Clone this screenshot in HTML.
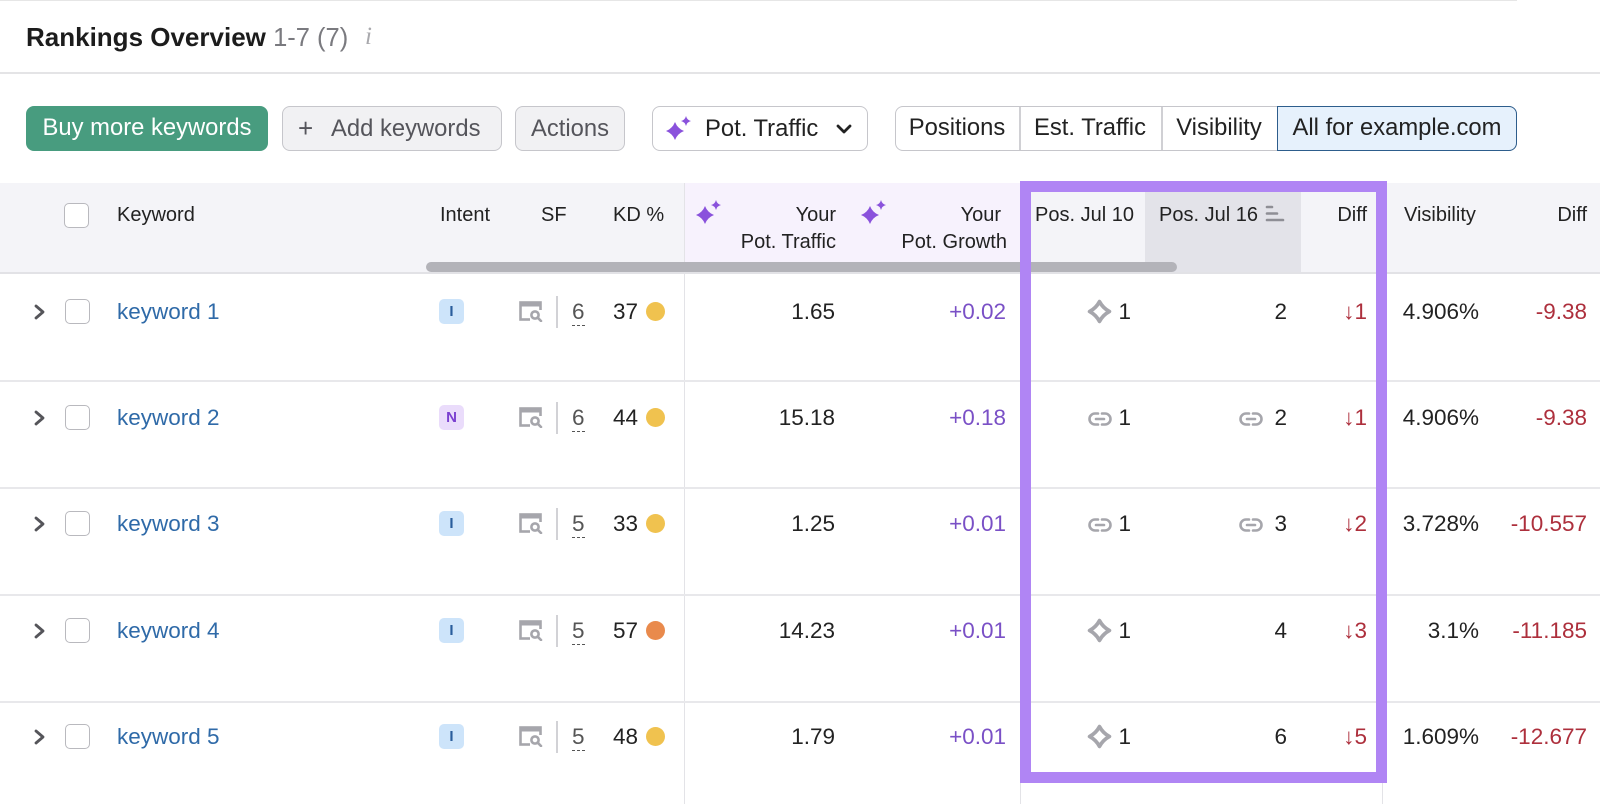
<!DOCTYPE html>
<html><head><meta charset="utf-8">
<style>
*{box-sizing:border-box;margin:0;padding:0}
html,body{width:1600px;height:804px;overflow:hidden;background:#fff}
body{position:relative;font-family:"Liberation Sans",Arial,sans-serif;color:#222}
.a{position:absolute}
.t{position:absolute;line-height:30px;white-space:nowrap}
.hd{font-size:20px;color:#222}
.rw{font-size:22.5px;color:#222}
.btn{position:absolute;top:106px;height:45px;border-radius:8px;font-size:23.8px;line-height:43px;white-space:nowrap}
.cb{position:absolute;width:25px;height:25px;border:1.5px solid #b9b9be;border-radius:5px;background:#fff}
.kw{color:#2f6aa8}
.pur{color:#7a50c6}
.red{color:#ad2f3c}
.badge{position:absolute;width:25px;height:25px;border-radius:5px;font-size:15px;font-weight:bold;line-height:25px;text-align:center}
.bI{background:#cde4fa;color:#2a5d9c}
.bN{background:#eadcfb;color:#7a3fd0}
.dot{position:absolute;width:19px;height:19px;border-radius:50%}
.vl{position:absolute;width:1px;background:#e3e3e7}
.hl{position:absolute;left:0;width:1600px;height:2px;background:#e8e8eb}
</style></head><body>

<div class="a" style="left:0;top:0;width:1517px;height:1px;background:#e6e6e6"></div>

<div class="t" style="left:26px;top:22px;font-size:26px;font-weight:bold;color:#1c1c1c">Rankings Overview <span style="font-weight:normal;color:#7a7a7f;font-size:25.5px">1-7 (7)</span></div>
<div class="t" style="left:365px;top:22px;font-size:25px;font-family:'Liberation Serif',serif;font-style:italic;color:#a9a9ad">i</div>

<div class="a" style="left:0;top:72px;width:1600px;height:2px;background:#e4e4e6"></div>

<div class="btn" style="left:26px;width:242px;background:#489c7f;color:#fff;text-align:center">Buy more keywords</div>
<div class="btn" style="left:282px;width:220px;background:#f1f1f3;border:1.5px solid #c6c6cb;color:#55555b">
  <span class="a" style="left:15px;top:0;font-size:26px">+</span>
  <span class="a" style="left:48px;top:0">Add keywords</span>
</div>
<div class="btn" style="left:515px;width:110px;background:#f1f1f3;border:1.5px solid #c6c6cb;color:#55555b;text-align:center">Actions</div>
<div class="btn" style="left:652px;width:216px;background:#fff;border:1.5px solid #c6c6cb;color:#222">
  <svg class="a" style="left:13px;top:8px" width="26" height="26" viewBox="0 0 26 26"><path d="M9 7 Q11.5 13.5 18 16 Q11.5 18.5 9 25 Q6.5 18.5 0 16 Q6.5 13.5 9 7Z" fill="#8a52dc"/><path d="M20 1 Q21 5 25 6 Q21 7 20 11 Q19 7 15 6 Q19 5 20 1Z" fill="#8a52dc"/></svg>
  <span class="a" style="left:52px;top:0">Pot. Traffic</span>
  <svg class="a" style="left:183px;top:17px" width="16" height="12" viewBox="0 0 16 12"><polyline points="2,2 8,8 14,2" fill="none" stroke="#222" stroke-width="2.8" stroke-linecap="round" stroke-linejoin="round"/></svg>
</div>
<div class="btn" style="left:895px;width:622px;border:1.5px solid #c6c6cb;background:#fff;color:#222"></div>
<div class="btn" style="left:895px;width:124px;text-align:center;background:transparent">Positions</div>
<div class="a" style="left:1019px;top:107px;width:1.5px;height:43px;background:#d0d0d4"></div>
<div class="btn" style="left:1019px;width:142px;text-align:center;background:transparent">Est. Traffic</div>
<div class="a" style="left:1161px;top:107px;width:1.5px;height:43px;background:#d0d0d4"></div>
<div class="btn" style="left:1161px;width:116px;text-align:center;background:transparent">Visibility</div>
<div class="btn" style="left:1277px;width:240px;text-align:center;background:#e6f1fc;border:1.5px solid #2d5d8c;border-radius:0 8px 8px 0;line-height:42px">All for example.com</div>

<div class="a" style="left:0;top:183px;width:1600px;height:90px;background:#f4f4f8"></div>
<div class="a" style="left:684px;top:183px;width:336px;height:90px;background:#f7f2fd"></div>
<div class="a" style="left:1145px;top:183px;width:156px;height:90px;background:#e3e3e9"></div>
<div class="a" style="left:0;top:272px;width:1600px;height:2px;background:#e2e2e6"></div>

<div class="vl" style="left:684px;top:183px;height:621px"></div>
<div class="vl" style="left:1020px;top:273px;height:531px"></div>
<div class="vl" style="left:1382px;top:273px;height:531px"></div>

<div class="cb" style="left:64px;top:203px"></div>
<div class="t hd" style="left:117px;top:200px">Keyword</div>
<div class="t hd" style="left:440px;top:200px">Intent</div>
<div class="t hd" style="left:541px;top:200px">SF</div>
<div class="t hd" style="left:613px;top:200px">KD %</div>
<svg class="a" style="left:696px;top:199px" width="26" height="26" viewBox="0 0 26 26"><path d="M9 7 Q11.5 13.5 18 16 Q11.5 18.5 9 25 Q6.5 18.5 0 16 Q6.5 13.5 9 7Z" fill="#8a52dc"/><path d="M20 1 Q21 5 25 6 Q21 7 20 11 Q19 7 15 6 Q19 5 20 1Z" fill="#8a52dc"/></svg>
<div class="t hd" style="right:764px;top:200px;text-align:right">Your</div>
<div class="t hd" style="right:764px;top:227px;text-align:right">Pot. Traffic</div>
<svg class="a" style="left:861px;top:199px" width="26" height="26" viewBox="0 0 26 26"><path d="M9 7 Q11.5 13.5 18 16 Q11.5 18.5 9 25 Q6.5 18.5 0 16 Q6.5 13.5 9 7Z" fill="#8a52dc"/><path d="M20 1 Q21 5 25 6 Q21 7 20 11 Q19 7 15 6 Q19 5 20 1Z" fill="#8a52dc"/></svg>
<div class="t hd" style="right:599px;top:200px">Your</div>
<div class="t hd" style="right:593px;top:227px">Pot. Growth</div>
<div class="t hd" style="left:1035px;top:200px">Pos. Jul 10</div>
<div class="t hd" style="left:1159px;top:200px">Pos. Jul 16</div>
<svg class="a" style="left:1265px;top:204px" width="20" height="20" viewBox="0 0 20 20"><g stroke="#8e8e95" stroke-width="2.6" stroke-linecap="round"><line x1="2" y1="3" x2="7" y2="3"/><line x1="2" y1="9.5" x2="12" y2="9.5"/><line x1="2" y1="16" x2="18" y2="16"/></g></svg>
<div class="t hd" style="right:233px;top:200px">Diff</div>
<div class="t hd" style="left:1404px;top:200px">Visibility</div>
<div class="t hd" style="right:13px;top:200px">Diff</div>

<div class="a" style="left:426px;top:262px;width:751px;height:10px;border-radius:5px;background:#b3b3b9"></div>

<div class="hl" style="top:380px"></div>
<div class="hl" style="top:487px"></div>
<div class="hl" style="top:594px"></div>
<div class="hl" style="top:701px"></div>

<!-- Row 1 -->
<svg class="a" style="left:33px;top:304px" width="14" height="16" viewBox="0 0 14 16"><polyline points="3,2 10,8 3,14" fill="none" stroke="#55555a" stroke-width="2.8" stroke-linecap="round" stroke-linejoin="round"/></svg>
<div class="cb" style="left:65px;top:299px"></div>
<div class="t rw kw" style="left:117px;top:297px">keyword 1</div>
<div class="badge bI" style="left:439px;top:299px">I</div>
<svg class="a" style="left:519px;top:301px" width="25" height="21" viewBox="0 0 25 21"><rect x="1.5" y="1.5" width="20" height="17" fill="none" stroke="#a6a6ac" stroke-width="2.6"/><rect x="1.5" y="1.5" width="20" height="4" fill="#a6a6ac"/><rect x="11" y="9" width="13" height="12" fill="#fff"/><circle cx="16" cy="14" r="3.6" fill="none" stroke="#a6a6ac" stroke-width="2.6"/><line x1="18.6" y1="16.6" x2="22" y2="20" stroke="#a6a6ac" stroke-width="2.6" stroke-linecap="round"/></svg>
<div class="a" style="left:556px;top:296px;width:2px;height:32px;background:#d2d2d6"></div>
<div class="t rw" style="left:572px;top:297px;color:#555">6</div>
<div class="a" style="left:572px;top:325px;width:13px;border-bottom:1.5px dashed #555"></div>
<div class="t rw" style="right:962px;top:297px">37</div>
<div class="dot" style="left:646px;top:302px;background:#f0c24f"></div>
<div class="t rw" style="right:765px;top:297px">1.65</div>
<div class="t rw pur" style="right:594px;top:297px">+0.02</div>
<svg class="a" style="left:1087px;top:299px" width="25" height="25" viewBox="0 0 24 24"><path d="M12 2.5 Q15.3 8.7 21.5 12 Q15.3 15.3 12 21.5 Q8.7 15.3 2.5 12 Q8.7 8.7 12 2.5Z" fill="#fff" stroke="#a6a6ac" stroke-width="3.6" stroke-linejoin="round"/></svg>
<div class="t rw" style="right:469px;top:297px">1</div>
<div class="t rw" style="right:313px;top:297px">2</div>
<div class="t rw red" style="right:233px;top:297px">↓1</div>
<div class="t rw" style="right:121px;top:297px">4.906%</div>
<div class="t rw red" style="right:13px;top:297px">-9.38</div>

<!-- Row 2 -->
<svg class="a" style="left:33px;top:410px" width="14" height="16" viewBox="0 0 14 16"><polyline points="3,2 10,8 3,14" fill="none" stroke="#55555a" stroke-width="2.8" stroke-linecap="round" stroke-linejoin="round"/></svg>
<div class="cb" style="left:65px;top:405px"></div>
<div class="t rw kw" style="left:117px;top:403px">keyword 2</div>
<div class="badge bN" style="left:439px;top:405px">N</div>
<svg class="a" style="left:519px;top:407px" width="25" height="21" viewBox="0 0 25 21"><rect x="1.5" y="1.5" width="20" height="17" fill="none" stroke="#a6a6ac" stroke-width="2.6"/><rect x="1.5" y="1.5" width="20" height="4" fill="#a6a6ac"/><rect x="11" y="9" width="13" height="12" fill="#fff"/><circle cx="16" cy="14" r="3.6" fill="none" stroke="#a6a6ac" stroke-width="2.6"/><line x1="18.6" y1="16.6" x2="22" y2="20" stroke="#a6a6ac" stroke-width="2.6" stroke-linecap="round"/></svg>
<div class="a" style="left:556px;top:402px;width:2px;height:32px;background:#d2d2d6"></div>
<div class="t rw" style="left:572px;top:403px;color:#555">6</div>
<div class="a" style="left:572px;top:431px;width:13px;border-bottom:1.5px dashed #555"></div>
<div class="t rw" style="right:962px;top:403px">44</div>
<div class="dot" style="left:646px;top:408px;background:#f0c24f"></div>
<div class="t rw" style="right:765px;top:403px">15.18</div>
<div class="t rw pur" style="right:594px;top:403px">+0.18</div>
<svg class="a" style="left:1088px;top:411px" width="24" height="16" viewBox="0 0 24 16"><g fill="none" stroke="#a6a6ac" stroke-width="2.6" stroke-linecap="round"><path d="M10 2.5 H7 a5.5 5.5 0 0 0 0 11 H10"/><path d="M14 2.5 H17 a5.5 5.5 0 0 1 0 11 H14"/><line x1="8" y1="8" x2="16" y2="8"/></g></svg>
<div class="t rw" style="right:469px;top:403px">1</div>
<svg class="a" style="left:1239px;top:411px" width="24" height="16" viewBox="0 0 24 16"><g fill="none" stroke="#a6a6ac" stroke-width="2.6" stroke-linecap="round"><path d="M10 2.5 H7 a5.5 5.5 0 0 0 0 11 H10"/><path d="M14 2.5 H17 a5.5 5.5 0 0 1 0 11 H14"/><line x1="8" y1="8" x2="16" y2="8"/></g></svg>
<div class="t rw" style="right:313px;top:403px">2</div>
<div class="t rw red" style="right:233px;top:403px">↓1</div>
<div class="t rw" style="right:121px;top:403px">4.906%</div>
<div class="t rw red" style="right:13px;top:403px">-9.38</div>

<!-- Row 3 -->
<svg class="a" style="left:33px;top:516px" width="14" height="16" viewBox="0 0 14 16"><polyline points="3,2 10,8 3,14" fill="none" stroke="#55555a" stroke-width="2.8" stroke-linecap="round" stroke-linejoin="round"/></svg>
<div class="cb" style="left:65px;top:511px"></div>
<div class="t rw kw" style="left:117px;top:509px">keyword 3</div>
<div class="badge bI" style="left:439px;top:511px">I</div>
<svg class="a" style="left:519px;top:513px" width="25" height="21" viewBox="0 0 25 21"><rect x="1.5" y="1.5" width="20" height="17" fill="none" stroke="#a6a6ac" stroke-width="2.6"/><rect x="1.5" y="1.5" width="20" height="4" fill="#a6a6ac"/><rect x="11" y="9" width="13" height="12" fill="#fff"/><circle cx="16" cy="14" r="3.6" fill="none" stroke="#a6a6ac" stroke-width="2.6"/><line x1="18.6" y1="16.6" x2="22" y2="20" stroke="#a6a6ac" stroke-width="2.6" stroke-linecap="round"/></svg>
<div class="a" style="left:556px;top:508px;width:2px;height:32px;background:#d2d2d6"></div>
<div class="t rw" style="left:572px;top:509px;color:#555">5</div>
<div class="a" style="left:572px;top:537px;width:13px;border-bottom:1.5px dashed #555"></div>
<div class="t rw" style="right:962px;top:509px">33</div>
<div class="dot" style="left:646px;top:514px;background:#f0c24f"></div>
<div class="t rw" style="right:765px;top:509px">1.25</div>
<div class="t rw pur" style="right:594px;top:509px">+0.01</div>
<svg class="a" style="left:1088px;top:517px" width="24" height="16" viewBox="0 0 24 16"><g fill="none" stroke="#a6a6ac" stroke-width="2.6" stroke-linecap="round"><path d="M10 2.5 H7 a5.5 5.5 0 0 0 0 11 H10"/><path d="M14 2.5 H17 a5.5 5.5 0 0 1 0 11 H14"/><line x1="8" y1="8" x2="16" y2="8"/></g></svg>
<div class="t rw" style="right:469px;top:509px">1</div>
<svg class="a" style="left:1239px;top:517px" width="24" height="16" viewBox="0 0 24 16"><g fill="none" stroke="#a6a6ac" stroke-width="2.6" stroke-linecap="round"><path d="M10 2.5 H7 a5.5 5.5 0 0 0 0 11 H10"/><path d="M14 2.5 H17 a5.5 5.5 0 0 1 0 11 H14"/><line x1="8" y1="8" x2="16" y2="8"/></g></svg>
<div class="t rw" style="right:313px;top:509px">3</div>
<div class="t rw red" style="right:233px;top:509px">↓2</div>
<div class="t rw" style="right:121px;top:509px">3.728%</div>
<div class="t rw red" style="right:13px;top:509px">-10.557</div>

<!-- Row 4 -->
<svg class="a" style="left:33px;top:623px" width="14" height="16" viewBox="0 0 14 16"><polyline points="3,2 10,8 3,14" fill="none" stroke="#55555a" stroke-width="2.8" stroke-linecap="round" stroke-linejoin="round"/></svg>
<div class="cb" style="left:65px;top:618px"></div>
<div class="t rw kw" style="left:117px;top:616px">keyword 4</div>
<div class="badge bI" style="left:439px;top:618px">I</div>
<svg class="a" style="left:519px;top:620px" width="25" height="21" viewBox="0 0 25 21"><rect x="1.5" y="1.5" width="20" height="17" fill="none" stroke="#a6a6ac" stroke-width="2.6"/><rect x="1.5" y="1.5" width="20" height="4" fill="#a6a6ac"/><rect x="11" y="9" width="13" height="12" fill="#fff"/><circle cx="16" cy="14" r="3.6" fill="none" stroke="#a6a6ac" stroke-width="2.6"/><line x1="18.6" y1="16.6" x2="22" y2="20" stroke="#a6a6ac" stroke-width="2.6" stroke-linecap="round"/></svg>
<div class="a" style="left:556px;top:615px;width:2px;height:32px;background:#d2d2d6"></div>
<div class="t rw" style="left:572px;top:616px;color:#555">5</div>
<div class="a" style="left:572px;top:644px;width:13px;border-bottom:1.5px dashed #555"></div>
<div class="t rw" style="right:962px;top:616px">57</div>
<div class="dot" style="left:646px;top:621px;background:#e98a4c"></div>
<div class="t rw" style="right:765px;top:616px">14.23</div>
<div class="t rw pur" style="right:594px;top:616px">+0.01</div>
<svg class="a" style="left:1087px;top:618px" width="25" height="25" viewBox="0 0 24 24"><path d="M12 2.5 Q15.3 8.7 21.5 12 Q15.3 15.3 12 21.5 Q8.7 15.3 2.5 12 Q8.7 8.7 12 2.5Z" fill="#fff" stroke="#a6a6ac" stroke-width="3.6" stroke-linejoin="round"/></svg>
<div class="t rw" style="right:469px;top:616px">1</div>
<div class="t rw" style="right:313px;top:616px">4</div>
<div class="t rw red" style="right:233px;top:616px">↓3</div>
<div class="t rw" style="right:121px;top:616px">3.1%</div>
<div class="t rw red" style="right:13px;top:616px">-11.185</div>

<!-- Row 5 -->
<svg class="a" style="left:33px;top:729px" width="14" height="16" viewBox="0 0 14 16"><polyline points="3,2 10,8 3,14" fill="none" stroke="#55555a" stroke-width="2.8" stroke-linecap="round" stroke-linejoin="round"/></svg>
<div class="cb" style="left:65px;top:724px"></div>
<div class="t rw kw" style="left:117px;top:722px">keyword 5</div>
<div class="badge bI" style="left:439px;top:724px">I</div>
<svg class="a" style="left:519px;top:726px" width="25" height="21" viewBox="0 0 25 21"><rect x="1.5" y="1.5" width="20" height="17" fill="none" stroke="#a6a6ac" stroke-width="2.6"/><rect x="1.5" y="1.5" width="20" height="4" fill="#a6a6ac"/><rect x="11" y="9" width="13" height="12" fill="#fff"/><circle cx="16" cy="14" r="3.6" fill="none" stroke="#a6a6ac" stroke-width="2.6"/><line x1="18.6" y1="16.6" x2="22" y2="20" stroke="#a6a6ac" stroke-width="2.6" stroke-linecap="round"/></svg>
<div class="a" style="left:556px;top:721px;width:2px;height:32px;background:#d2d2d6"></div>
<div class="t rw" style="left:572px;top:722px;color:#555">5</div>
<div class="a" style="left:572px;top:750px;width:13px;border-bottom:1.5px dashed #555"></div>
<div class="t rw" style="right:962px;top:722px">48</div>
<div class="dot" style="left:646px;top:727px;background:#f0c24f"></div>
<div class="t rw" style="right:765px;top:722px">1.79</div>
<div class="t rw pur" style="right:594px;top:722px">+0.01</div>
<svg class="a" style="left:1087px;top:724px" width="25" height="25" viewBox="0 0 24 24"><path d="M12 2.5 Q15.3 8.7 21.5 12 Q15.3 15.3 12 21.5 Q8.7 15.3 2.5 12 Q8.7 8.7 12 2.5Z" fill="#fff" stroke="#a6a6ac" stroke-width="3.6" stroke-linejoin="round"/></svg>
<div class="t rw" style="right:469px;top:722px">1</div>
<div class="t rw" style="right:313px;top:722px">6</div>
<div class="t rw red" style="right:233px;top:722px">↓5</div>
<div class="t rw" style="right:121px;top:722px">1.609%</div>
<div class="t rw red" style="right:13px;top:722px">-12.677</div>

<div class="a" style="left:1020px;top:181px;width:367px;height:602px;border:11.5px solid #b085f4"></div>

</body></html>
